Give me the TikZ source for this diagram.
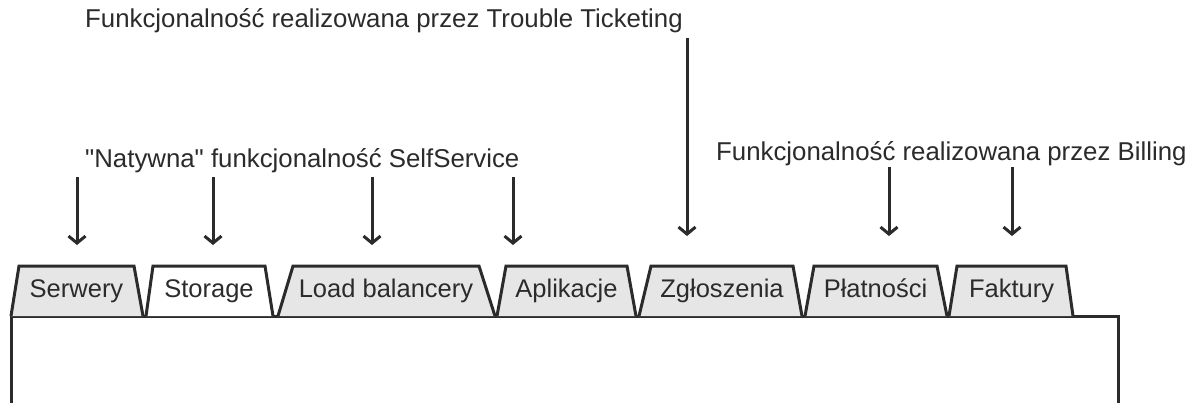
\documentclass[tikz,border=0pt]{standalone}
\usepackage{fontspec}
\setmainfont{Liberation Sans}
\usetikzlibrary{arrows.meta}
\definecolor{ink}{HTML}{2B2B2B}
\definecolor{tabgray}{HTML}{E6E6E6}
\begin{document}
\begin{tikzpicture}[x=1pt,y=-1pt,
  frame/.style={draw=ink, line width=3pt, line join=miter},
  tabtext/.style={text=ink, font=\fontsize{25.5}{30}\selectfont, anchor=base, inner sep=0pt},
  note/.style={text=ink, font=\fontsize{25.8}{30}\selectfont, anchor=base west, inner sep=0pt},
  pointer/.style={draw=ink, line width=3pt, -{Straight Barb[length=7pt,width=17pt,line width=3pt]}}
]
\useasboundingbox (0,0) rectangle (1196,402);
\fill[white] (0,0) rectangle (1196,402);

% panel body
\draw[frame, fill=white] (11,316) rectangle (1118,404);

% tabs: bottom-left, top-left, top-right, bottom-right
\draw[frame, fill=tabgray] (11,316)  -- (19,266)  -- (134,266)  -- (143,316);
\draw[frame, fill=white]   (146,316) -- (153,266) -- (265,266)  -- (273,316);
\draw[frame, fill=tabgray] (278,316) -- (293,266) -- (479,266)  -- (495,316);
\draw[frame, fill=tabgray] (497,316) -- (506,266) -- (627,266)  -- (636,316);
\draw[frame, fill=tabgray] (639,316) -- (651,266) -- (793,266)  -- (802,316);
\draw[frame, fill=tabgray] (805,316) -- (814,266) -- (937,266)  -- (947,316);
\draw[frame, fill=tabgray] (949,316) -- (957,266) -- (1066,266) -- (1073,316);

\node[tabtext] (serwery)  at (76.5,297)  {Serwery};
\node[tabtext] (storage)  at (209,297)   {Storage};
\node[tabtext] (load)     at (386,297)   {Load balancery};
\node[tabtext] (apl)      at (566.5,297) {Aplikacje};
\node[tabtext] (zgl)      at (722,297)   {Zgłoszenia};
\node[tabtext] (plat)     at (875.5,297) {Płatności};
\node[tabtext] (fakt)     at (1011.5,297){Faktury};

% captions
\node[note] (tt)      at (85,27)   {Funkcjonalność realizowana przez Trouble Ticketing};
\node[note] (native)  at (85,167)  {\textquotedbl Natywna\textquotedbl{} funkcjonalność SelfService};
\node[note] (billing) at (716,160) {Funkcjonalność realizowana przez Billing};

% arrow ends
\coordinate (a1s) at (77,177);  \coordinate (a1e) at (77,245);
\coordinate (a2s) at (213,177); \coordinate (a2e) at (213,245);
\coordinate (a3s) at (372,177); \coordinate (a3e) at (372,245);
\coordinate (a4s) at (513,177); \coordinate (a4e) at (513,245);
\coordinate (t1s) at (687,38);  \coordinate (t1e) at (687,236);
\coordinate (b1s) at (889,167); \coordinate (b1e) at (889,236);
\coordinate (b2s) at (1012,167);\coordinate (b2e) at (1012,236);

\draw[pointer] (a1s) -- (a1e);
\draw[pointer] (a2s) -- (a2e);
\draw[pointer] (a3s) -- (a3e);
\draw[pointer] (a4s) -- (a4e);
\draw[pointer] (t1s) -- (t1e);
\draw[pointer] (b1s) -- (b1e);
\draw[pointer] (b2s) -- (b2e);
\end{tikzpicture}
\end{document}
